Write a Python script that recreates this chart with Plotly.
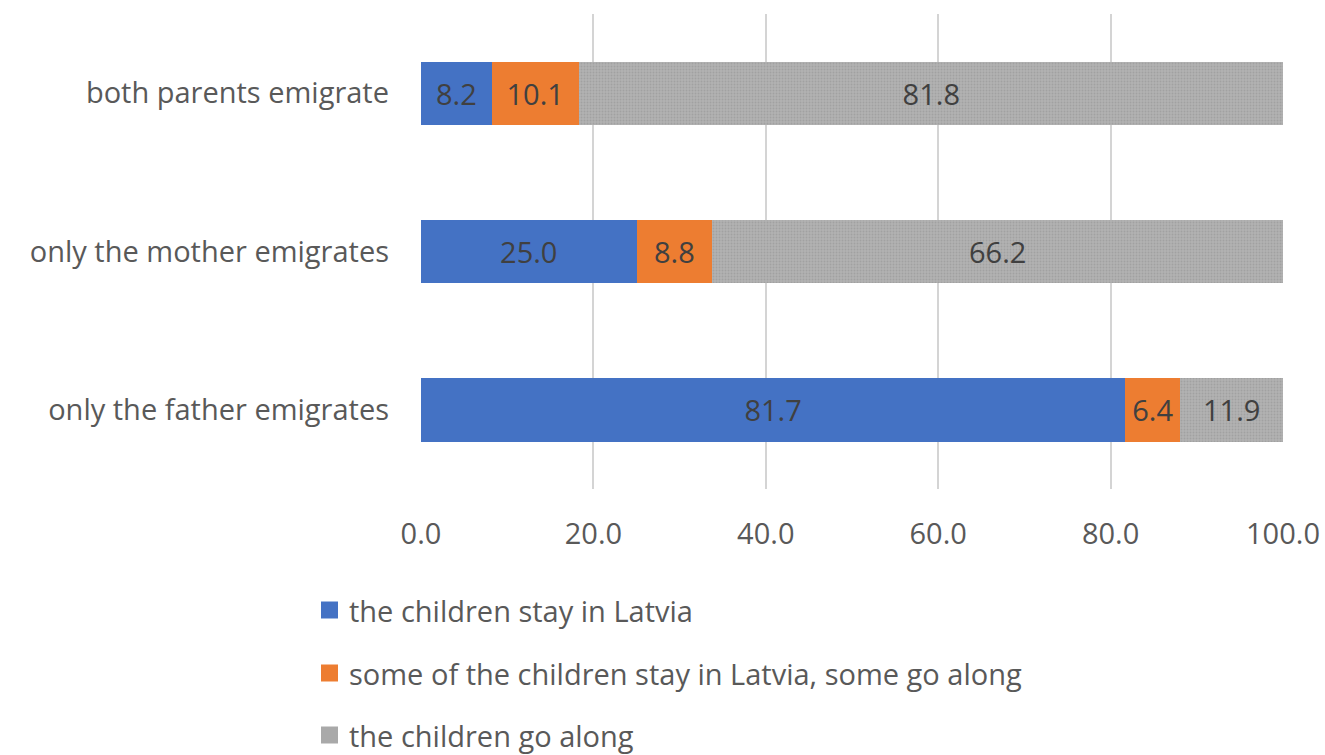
import plotly.graph_objects as go

categories = ["only the father emigrates", "only the mother emigrates", "both parents emigrate"]
stay = [81.7, 25.0, 8.2]
some = [6.4, 8.8, 10.1]
along = [11.9, 66.2, 81.8]
series_names = ["the children stay in Latvia",
                "some of the children stay in Latvia, some go along",
                "the children go along"]
series_colors = ["#4472C4", "#ED7D31", "#A5A5A5"]
tick_vals = [0, 20, 40, 60, 80, 100]
tick_text = ["0.0", "20.0", "40.0", "60.0", "80.0", "100.0"]

font_family = "Open Sans, Noto Sans, sans-serif"
label_color = "#404040"
text_color = "#595959"
FS = 29

W, H = 1325, 755
ML, MR, MT, MB = 421, 42, 14, 266
PW, PH = W - ML - MR, H - MT - MB


def px_x(px):
    return (px - ML) / PW


def px_y(py):
    return (H - MB - py) / PH


fig = go.Figure()
for i, (name, vals) in enumerate(zip(series_names, [stay, some, along])):
    marker = dict(color=series_colors[i], line=dict(width=0))
    if i == 2:
        marker["pattern"] = dict(shape=".", size=3, solidity=0.35,
                                 fgcolor="#8f8f8f", bgcolor="#b2b2b2")
    fig.add_trace(go.Bar(
        y=categories, x=vals, name=name, orientation="h",
        marker=marker,
        text=[f"{v:.1f}" for v in vals], textposition="inside",
        insidetextanchor="middle", textangle=0,
        textfont=dict(family=font_family, size=FS, color=label_color),
        showlegend=False,
    ))

# legend drawn below the chart
legend_rows_y = [610, 673, 735]
for name, col, cy in zip(series_names, series_colors, legend_rows_y):
    fig.add_shape(type="rect", xref="paper", yref="paper",
                  x0=px_x(321), x1=px_x(338), y0=px_y(cy + 8.5), y1=px_y(cy - 8.5),
                  fillcolor=col if col != "#A5A5A5" else "#a9a9a9",
                  line=dict(width=0), layer="above")
    fig.add_annotation(xref="paper", yref="paper", x=px_x(347), y=px_y(cy),
                       xanchor="left", yanchor="middle", showarrow=False,
                       text=name, font=dict(family=font_family, size=FS, color=text_color))

fig.update_layout(
    barmode="stack",
    bargap=0.6,
    width=W, height=H,
    margin=dict(l=ML, r=MR, t=MT, b=MB),
    paper_bgcolor="white", plot_bgcolor="white",
    font=dict(family=font_family, color=text_color, size=FS),
    xaxis=dict(range=[0, 100], tickvals=tick_vals, ticktext=tick_text,
               showgrid=True, gridcolor="#d4d4d4", gridwidth=2,
               zeroline=False, showline=False, automargin=False,
               ticks="", ticklabelstandoff=25, tickangle=0,
               tickfont=dict(size=FS, color=text_color)),
    yaxis=dict(categoryorder="array", categoryarray=categories,
               showgrid=False, zeroline=False, showline=False, automargin=False,
               ticks="", ticklabelstandoff=31,
               tickfont=dict(size=FS, color=text_color)),
    showlegend=False,
)

fig.write_html("out.html")
